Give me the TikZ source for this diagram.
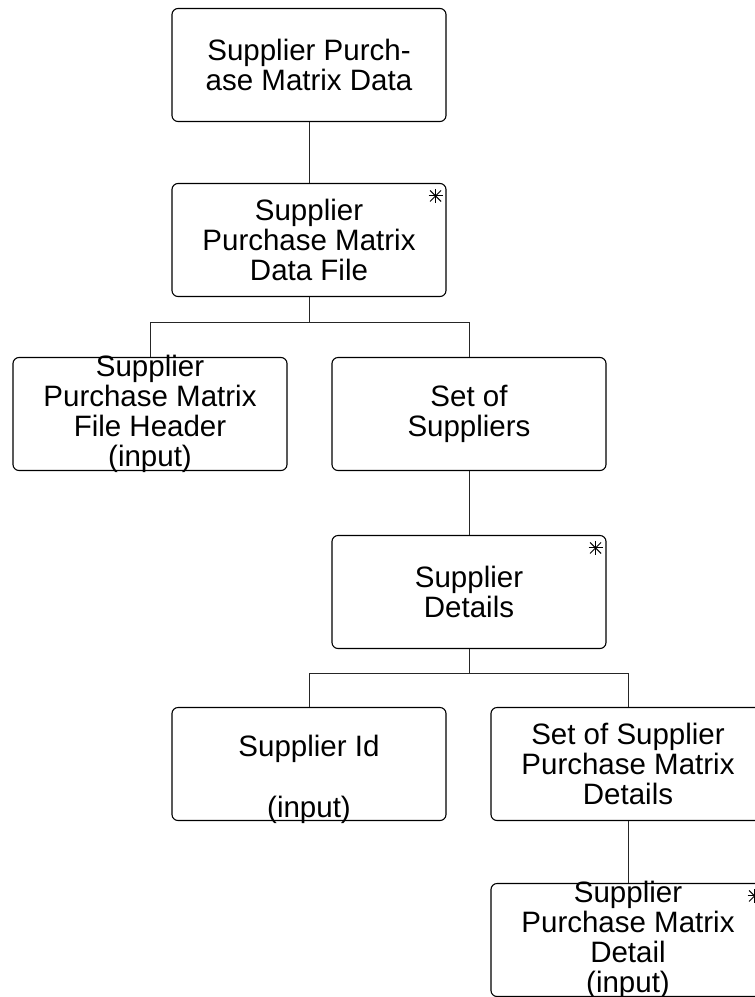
\documentclass[tikz,border=0pt]{standalone}
\usepackage{fontspec}
\setmainfont{Liberation Sans}
\usetikzlibrary{calc}
\begin{document}
\begin{tikzpicture}[x=1pt,y=-1pt,
  box/.style={draw=black, line width=1.1pt, rounded corners=6pt, minimum width=274pt, minimum height=113pt, inner sep=0pt},
  txt/.style={align=center, inner sep=0pt, font=\fontsize{29.5}{30}\selectfont},
  conn/.style={draw=black!85, line width=1pt},
  star/.style={line width=1pt}]
\useasboundingbox (0,0) rectangle (755,997);
\clip (0,0) rectangle (755,997);
\node[box] (b1) at (309,65) {};
\node[box] (b2) at (309,240) {};
\node[box] (b3) at (150,414) {};
\node[box] (b4) at (469,414) {};
\node[box] (b5) at (469,592) {};
\node[box] (b6) at (309,764) {};
\node[box] (b7) at (628,764) {};
\node[box] (b8) at (628,940) {};
\node[txt] (t1) at (b1.center) {Supplier Purch-\\ase Matrix Data};
\node[txt] (t2) at (b2.center) {Supplier\\Purchase Matrix\\Data File};
\node[txt] (t3) at (b3.center) {Supplier\\Purchase Matrix\\File Header\\(input)};
\node[txt] (t4) at (b4.center) {Set of\\Suppliers};
\node[txt] (t5) at (b5.center) {Supplier\\Details};
\node[txt] (t6) at (b6.center) {\strut\\Supplier Id\\\strut\\(input)};
\node[txt] (t7) at (b7.center) {Set of Supplier\\Purchase Matrix\\Details};
\node[txt] (t8) at (b8.center) {Supplier\\Purchase Matrix\\Detail\\(input)};
% connectors
\draw[conn] (b1.south) -- (b2.north);
\draw[conn] (b2.south) -- ++(0,25) coordinate (j1) -| (b3.north);
\draw[conn] (j1) -| (b4.north);
\draw[conn] (b4.south) -- (b5.north);
\draw[conn] (b5.south) -- ++(0,24) coordinate (j2) -| (b6.north);
\draw[conn] (j2) -| (b7.north);
\draw[conn] (b7.south) -- (b8.north);
% asterisks
\foreach \b in {b2,b5,b8}{
  \coordinate (s) at ($(\b.north east)+(-11,13)$);
  \draw[star] ($(s)+(0,-7)$) -- ($(s)+(0,7)$);
  \draw[star] ($(s)+(-7,0)$) -- ($(s)+(7,0)$);
  \draw[star] ($(s)+(-5.5,-5.5)$) -- ($(s)+(5.5,5.5)$);
  \draw[star] ($(s)+(-5.5,5.5)$) -- ($(s)+(5.5,-5.5)$);
}
\end{tikzpicture}
\end{document}
